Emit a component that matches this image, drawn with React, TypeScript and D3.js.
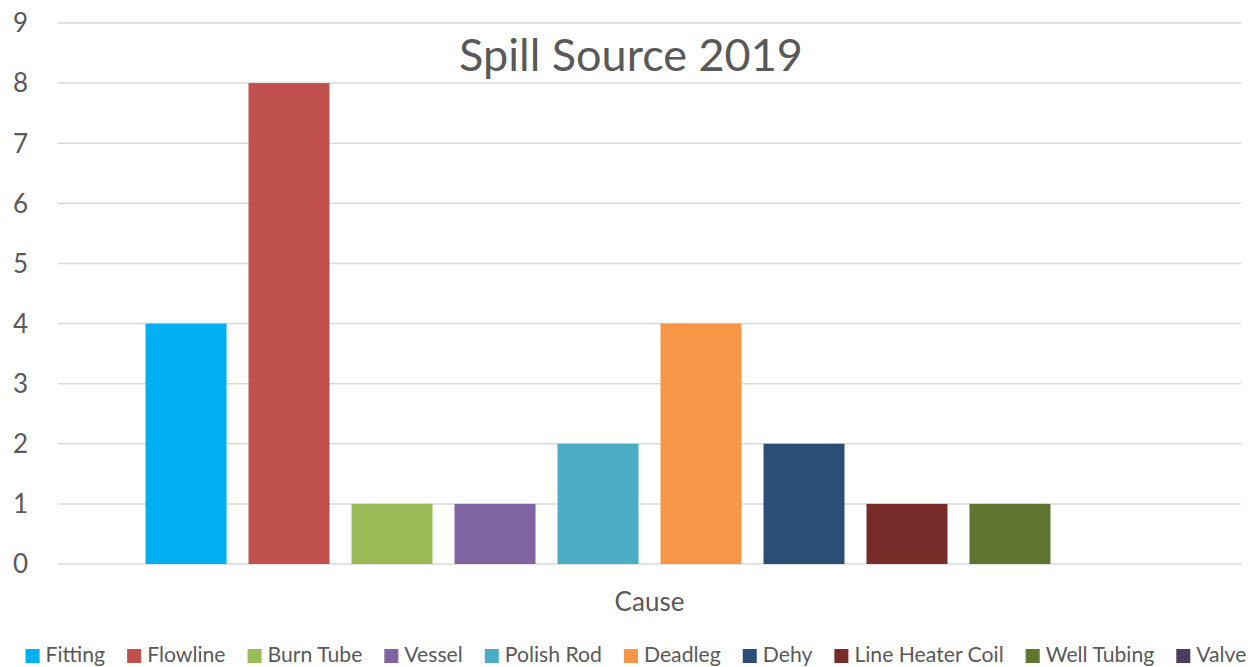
import React, { useEffect, useRef } from "react";
import * as d3 from "d3";

const categories = ["Cause"];
const seriesNames = [
  "Fitting",
  "Flowline",
  "Burn Tube",
  "Vessel",
  "Polish Rod",
  "Deadleg",
  "Dehy",
  "Line Heater Coil",
  "Well Tubing",
  "Valve",
];
const seriesValues = [4, 8, 1, 1, 2, 4, 2, 1, 1, 0];
const seriesColors = [
  "#00B0F0",
  "#C0504D",
  "#9BBB59",
  "#8064A2",
  "#4BACC6",
  "#F79646",
  "#2C4D75",
  "#772C2A",
  "#5F7530",
  "#4D3B62",
];
const yTicks = [0, 1, 2, 3, 4, 5, 6, 7, 8, 9];
const title = "Spill Source 2019";

const W = 1250;
const H = 667;
const FONT = "Lato, 'Noto Sans', sans-serif";
const TEXT = "#595959";

export default function App() {
  const ref = useRef<SVGSVGElement | null>(null);

  useEffect(() => {
    const svg = d3.select(ref.current);
    svg.selectAll("*").remove();

    const left = 58;
    const right = 1241;
    const top = 23;
    const bottom = 564;

    const y = d3.scaleLinear().domain([0, 9]).range([bottom, top]);
    const x0 = d3
      .scaleBand<string>()
      .domain(categories)
      .range([left, right])
      .paddingInner(0)
      .paddingOuter(0.0743);
    const x1 = d3
      .scaleBand<string>()
      .domain(seriesNames)
      .range([0, x0.bandwidth()])
      .paddingInner(0.2136)
      .paddingOuter(0.1068);

    svg.append("rect").attr("width", W).attr("height", H).attr("fill", "#fff");

    // gridlines
    svg
      .append("g")
      .selectAll("line")
      .data(yTicks)
      .join("line")
      .attr("x1", left)
      .attr("x2", right)
      .attr("y1", (d) => y(d))
      .attr("y2", (d) => y(d))
      .attr("stroke", "#D9D9D9")
      .attr("stroke-width", 1.5);

    // y tick labels
    svg
      .append("g")
      .selectAll("text")
      .data(yTicks)
      .join("text")
      .attr("x", 28)
      .attr("y", (d) => y(d))
      .attr("dy", "0.36em")
      .attr("text-anchor", "end")
      .attr("font-family", FONT)
      .attr("font-size", 26)
      .attr("fill", TEXT)
      .text((d) => String(d));

    // bars
    const g = svg
      .append("g")
      .selectAll("g")
      .data(categories)
      .join("g")
      .attr("transform", (c) => `translate(${x0(c)},0)`);
    g.selectAll("rect")
      .data(seriesNames.map((n, i) => ({ n, v: seriesValues[i], c: seriesColors[i] })))
      .join("rect")
      .attr("x", (d) => x1(d.n)!)
      .attr("width", x1.bandwidth())
      .attr("y", (d) => y(d.v))
      .attr("height", (d) => y(0) - y(d.v))
      .attr("fill", (d) => d.c);

    // category label
    svg
      .append("g")
      .selectAll("text")
      .data(categories)
      .join("text")
      .attr("x", (c) => x0(c)! + x0.bandwidth() / 2)
      .attr("y", 611)
      .attr("text-anchor", "middle")
      .attr("font-family", FONT)
      .attr("font-size", 26)
      .attr("fill", TEXT)
      .text((c) => c);

    // title
    svg
      .append("text")
      .attr("x", 631)
      .attr("y", 71)
      .attr("text-anchor", "middle")
      .attr("font-family", FONT)
      .attr("font-size", 45)
      .attr("fill", TEXT)
      .text(title);

    // legend
    const lg = svg.append("g");
    const sq = 14;
    const gapSqText = 6;
    const gapItems = 22;
    const items = seriesNames.map((n, i) => {
      const it = lg.append("g");
      it.append("rect")
        .attr("width", sq)
        .attr("height", sq)
        .attr("y", 649)
        .attr("fill", seriesColors[i]);
      const t = it
        .append("text")
        .attr("x", sq + gapSqText)
        .attr("y", 662)
        .attr("font-family", FONT)
        .attr("font-size", 21.2)
        .attr("fill", TEXT)
        .text(n);
      const w = (t.node() as SVGTextElement).getComputedTextLength();
      return { it, w: sq + gapSqText + w };
    });
    const total = d3.sum(items, (d) => d.w) + gapItems * (items.length - 1);
    let cx = 636 - total / 2;
    items.forEach((d) => {
      d.it.attr("transform", `translate(${cx},0)`);
      cx += d.w + gapItems;
    });
  }, []);

  return (
    <svg
      ref={ref}
      width={W}
      height={H}
      style={{ position: "absolute", left: 0, top: 0, display: "block" }}
    />
  );
}
